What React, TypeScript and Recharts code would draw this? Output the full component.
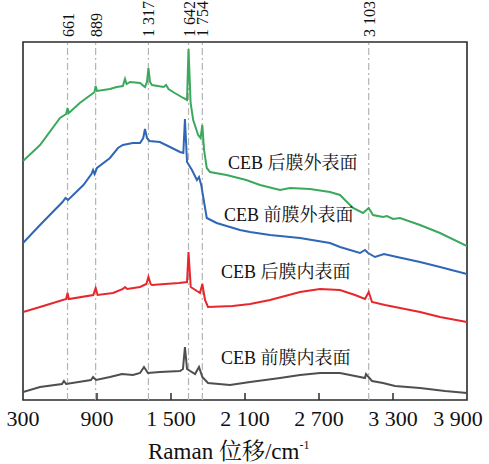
import React from 'react';
import { LineChart, Line, XAxis, YAxis, ReferenceLine, ReferenceArea, ReferenceDot } from 'recharts';

// Raman shift (cm^-1) tick values
const xTicks = [300, 900, 1500, 2100, 2700, 3300, 3900];
// Marked band positions
const bandWn = [661, 889, 1317, 1642, 1754, 3103];
const seriesNames = ['CEB 后膜外表面', 'CEB 前膜外表面', 'CEB 后膜内表面', 'CEB 前膜内表面'];
const seriesColors = ['#3aa95c', '#2f66b7', '#e8272c', '#4f4f4f'];

// [wavenumber, intensity (a.u., offset)]
const rearOuter: [number, number][] = [
  [300, 239], [438, 255], [600, 282], [650, 286], [661, 292], [672, 287], [760, 297], [870, 307], [880, 308],
  [889, 314], [900, 309], [1005, 311], [1060, 313], [1110, 314], [1127, 321], [1140, 316], [1168, 318],
  [1249, 317], [1289, 313], [1305, 318], [1317, 332], [1330, 318], [1346, 315], [1440, 313], [1460, 315],
  [1480, 311], [1530, 307], [1600, 302], [1630, 300], [1642, 351], [1659, 297], [1680, 280], [1720, 265],
  [1740, 262], [1754, 275], [1768, 250], [1790, 232], [1816, 228], [1950, 225], [2110, 220], [2222, 215],
  [2384, 210], [2465, 212], [2627, 211], [2789, 208], [2870, 205], [2927, 198], [2976, 192], [3057, 187],
  [3103, 192], [3138, 185], [3219, 183], [3251, 184], [3300, 181], [3357, 182], [3519, 175], [3681, 167],
  [3900, 154],
];
const frontOuter: [number, number][] = [
  [300, 157], [438, 175], [620, 198], [645, 202], [665, 200], [790, 215], [855, 226], [868, 230], [880, 226],
  [900, 232], [1005, 242], [1070, 252], [1110, 255], [1190, 257], [1249, 257], [1275, 262], [1289, 271],
  [1305, 262], [1325, 259], [1410, 258], [1492, 253], [1573, 248], [1600, 247], [1613, 281], [1630, 238],
  [1670, 230], [1710, 220], [1727, 223], [1745, 215], [1790, 182], [1870, 177], [2059, 170], [2141, 168],
  [2303, 165], [2546, 162], [2789, 157], [2870, 153], [3032, 147], [3073, 150], [3098, 147], [3154, 143],
  [3227, 146], [3333, 143], [3519, 138], [3681, 133], [3900, 126],
];
const rearInner: [number, number][] = [
  [300, 88], [438, 93], [650, 101], [661, 107], [672, 101], [870, 105], [889, 112], [905, 105], [1030, 107],
  [1110, 111], [1127, 113], [1145, 111], [1249, 113], [1300, 116], [1317, 123], [1335, 116], [1346, 115],
  [1451, 116], [1564, 117], [1630, 118], [1642, 148], [1660, 113], [1735, 107], [1754, 116], [1776, 100],
  [1800, 93], [2000, 94], [2141, 96], [2303, 100], [2546, 108], [2708, 111], [2870, 110], [2992, 105],
  [3073, 101], [3103, 108], [3130, 98], [3235, 95], [3357, 92], [3519, 88], [3681, 83], [3900, 78],
];
const frontInner: [number, number][] = [
  [300, 8], [438, 13], [616, 16], [632, 19], [650, 16], [851, 20], [868, 23], [892, 20], [1005, 23],
  [1103, 26], [1192, 25], [1249, 27], [1281, 33], [1313, 27], [1410, 28], [1573, 29], [1597, 31], [1613, 53],
  [1630, 31], [1695, 26], [1727, 33], [1754, 23], [1800, 17], [1978, 15], [2141, 18], [2384, 22], [2546, 25],
  [2708, 27], [2870, 27], [2992, 24], [3073, 22], [3081, 26], [3130, 19], [3219, 17], [3316, 14], [3519, 12],
  [3722, 9], [3900, 7],
];

// label anchor points [wavenumber, intensity]
const labelAnchors: [number, number][] = [[1962, 237], [1930, 185], [1905, 128], [1905, 42]];

const allSeries = [rearOuter, frontOuter, rearInner, frontInner].map((s) => s.map(([x, y]) => ({ x, y })));

const FONT = "'Liberation Serif', 'Times New Roman', 'Noto Serif CJK SC', 'Noto Sans CJK SC', serif";
const FRAME = '#2b2b2b';

const fmt = (v: number) => (v >= 1000 ? `${Math.floor(v / 1000)} ${String(v % 1000).padStart(3, '0')}` : String(v));

const XTick = (props: any) => {
  const { x, y, payload } = props;
  const v = payload.value as number;
  const dx = v === 3900 ? -9 : 0;
  const inner = v !== 300 && v !== 3900;
  return (
    <g>
      {inner && <line x1={x} y1={y} x2={x} y2={y - 7} stroke={FRAME} strokeWidth={1.5} />}
      <text x={x + dx} y={y + 26} textAnchor="middle" fontSize={22} fontFamily={FONT} fill="#111">
        {fmt(v)}
      </text>
    </g>
  );
};

export default function App() {
  return (
    <div style={{ position: 'absolute', left: 0, top: 0, background: '#fff' }}>
      <LineChart width={489} height={464} margin={{ top: 42, right: 22, bottom: 0, left: 23 }}>
        <XAxis
          type="number"
          dataKey="x"
          domain={[300, 3900]}
          ticks={xTicks}
          interval={0}
          allowDataOverflow
          height={64}
          axisLine={false}
          tickLine={false}
          tickSize={0}
          tickMargin={0}
          tick={<XTick />}
          label={() => (
            <text x={148} y={459} fontSize={23} fontFamily={FONT} fill="#111">
              <tspan>Raman 位移/cm</tspan>
              <tspan dy={-10} fontSize={12}>-1</tspan>
            </text>
          )}
        />
        <YAxis hide type="number" domain={[0, 358]} allowDataOverflow />
        {bandWn.map((w) => (
          <ReferenceLine
            key={w}
            x={w}
            stroke="#b4b4b4"
            strokeWidth={1.2}
            strokeDasharray="7 3 2 3"
            label={(p: any) => {
              const vx = p.viewBox.x + 6;
              const vy = 37;
              return (
                <text
                  x={vx}
                  y={vy}
                  transform={`rotate(-90 ${vx} ${vy})`}
                  fontSize={16}
                  fontFamily={FONT}
                  fill="#111"
                  textAnchor="start"
                >
                  {fmt(w)}
                </text>
              );
            }}
          />
        ))}
        {allSeries.map((d, i) => (
          <Line
            key={seriesNames[i]}
            data={d}
            dataKey="y"
            type="linear"
            stroke={seriesColors[i]}
            strokeWidth={2}
            dot={false}
            isAnimationActive={false}
          />
        ))}
        {labelAnchors.map(([wx, wy], i) => (
          <ReferenceDot
            key={'lbl' + i}
            x={wx}
            y={wy}
            r={1}
            fill="none"
            stroke="none"
            label={(p: any) => (
              <text
                x={p.viewBox.x + 1}
                y={p.viewBox.y + 1}
                dominantBaseline="central"
                fontSize={18}
                fontFamily={FONT}
                fill="#111"
              >
                {seriesNames[i]}
              </text>
            )}
          />
        ))}
        <ReferenceArea x1={300} x2={3900} y1={0} y2={358} fill="none" stroke={FRAME} strokeWidth={1.6} fillOpacity={0} />
      </LineChart>
    </div>
  );
}
